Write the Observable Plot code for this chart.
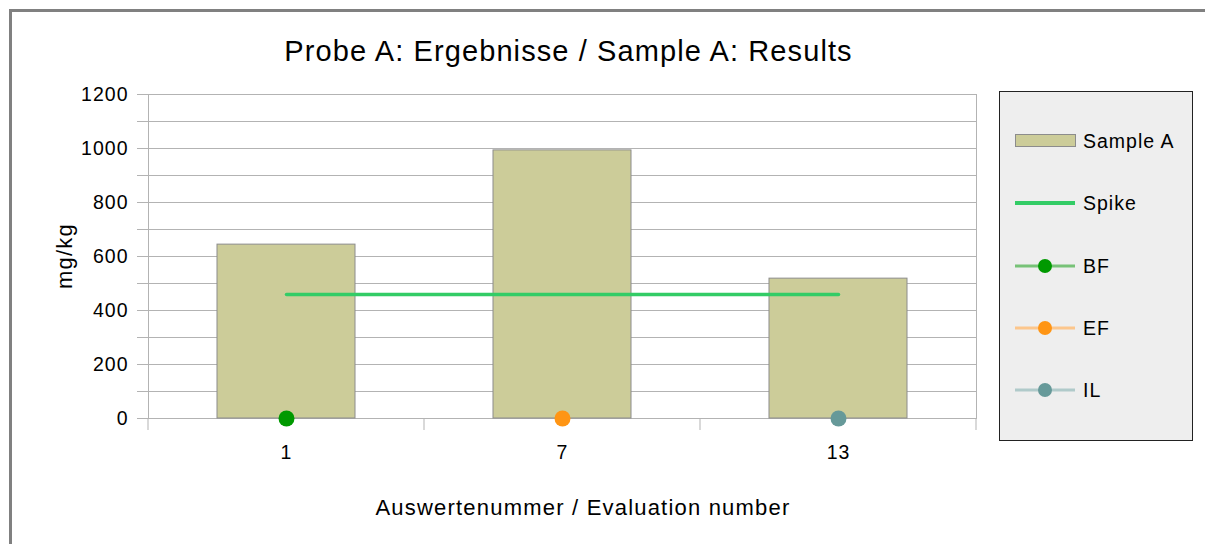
<!DOCTYPE html>
<html><head><meta charset="utf-8">
<script src="https://cdn.jsdelivr.net/npm/d3@7"></script>
<script src="https://cdn.jsdelivr.net/npm/@observablehq/plot@0.6"></script>
<style>
html,body{margin:0;padding:0;background:#fff;}
body{width:1205px;height:544px;overflow:hidden;position:relative;font-family:"Liberation Sans",Arial,sans-serif;}
#frame{position:absolute;left:9px;top:9px;width:1300px;height:700px;border:3px solid #808080;box-sizing:border-box;}
#title{position:absolute;left:0;top:34px;width:1137px;text-align:center;font-size:29px;letter-spacing:1.1px;line-height:34px;color:#000;white-space:nowrap;}
#xlabel{position:absolute;left:0;top:495px;width:1166px;text-align:center;font-size:22px;letter-spacing:1.2px;line-height:26px;color:#000;white-space:nowrap;}
#ylabel{position:absolute;left:65px;top:256px;transform:translate(-50%,-50%) rotate(-90deg);font-size:22px;letter-spacing:1.2px;line-height:26px;color:#000;white-space:nowrap;}
#chart{position:absolute;left:0;top:0;}
</style>
</head><body>
<div id="frame"></div>
<div id="chart"></div>
<div id="title"></div>
<div id="xlabel"></div>
<div id="ylabel"></div>
<script>
const categories = ["1", "7", "13"];
const sampleA = [644, 993, 518];
const spike = [459, 459, 459];
const markerNames = ["BF", "EF", "IL"];
const markerCategories = ["1", "7", "13"];
const markerValues = [0, 0, 0];
const markerColors = ["#009900", "#ff9514", "#669999"];
const legendLineColors = ["#77c277", "#fcc68c", "#b0caca"];
const yTicks = [0, 100, 200, 300, 400, 500, 600, 700, 800, 900, 1000, 1100, 1200];
const yLabelTicks = [0, 200, 400, 600, 800, 1000, 1200];
const title = "Probe A: Ergebnisse / Sample A: Results";
const xLabel = "Auswertenummer / Evaluation number";
const yLabel = "mg/kg";

document.getElementById("title").textContent = title;
document.getElementById("xlabel").textContent = xLabel;
document.getElementById("ylabel").textContent = yLabel;

const bars = categories.map((c, i) => ({cat: c, value: sampleA[i]}));
const spikeData = categories.map((c, i) => ({cat: c, value: spike[i]}));
const markers = markerNames.map((n, i) => ({name: n, cat: markerCategories[i], value: markerValues[i]}));

const plot = Plot.plot({
  width: 1205, height: 544,
  marginLeft: 148, marginRight: 229, marginTop: 94, marginBottom: 126,
  style: {fontFamily: '"Liberation Sans", Arial, sans-serif', fontSize: "19.5px", letterSpacing: "1px", background: "transparent", color: "#000"},
  x: {type: "band", domain: categories, paddingInner: 0.5, paddingOuter: 0.25},
  y: {domain: [0, 1200]},
  color: {domain: markerNames, range: markerColors},
  marks: [
    Plot.gridY(yTicks, {stroke: "#b3b3b3", strokeOpacity: 1, strokeWidth: 1}),
    Plot.frame({stroke: "#b3b3b3"}),
    Plot.axisY(yTicks, {tickSize: 11, tickPadding: 9, stroke: "#b3b3b3", fill: "#000",
      tickFormat: d => yLabelTicks.includes(d) ? String(d) : "", label: null}),
    Plot.axisX({tickSize: 0, tickPadding: 27, fill: "#000", label: null}),
    Plot.barY(bars, {x: "cat", y: "value", fill: "#cccc99", stroke: "#8c8c8c", strokeWidth: 1}),
    Plot.line(spikeData, {x: "cat", y: "value", stroke: "#33cc66", strokeWidth: 3.5}),
    Plot.dot(markers, {x: "cat", y: "value", r: 8, fill: "name", stroke: "none"})
  ]
});
document.getElementById("chart").appendChild(plot);

// Category separator ticks, derived from the scales
const xs = plot.scale("x"), ys = plot.scale("y");
const svg = d3.select(plot);
const y0 = ys.apply(0);
const [r0, r1] = xs.range;
const bounds = [r0, ...categories.slice(0, -1).map(c => xs.apply(c) + xs.bandwidth + (xs.step - xs.bandwidth) / 2), r1];
svg.append("g").selectAll("line").data(bounds).join("line")
  .attr("x1", d => d).attr("x2", d => d).attr("y1", y0).attr("y2", y0 + 12)
  .attr("stroke", "#b3b3b3");

// Legend
const lg = svg.append("g").attr("font-size", 19.5).attr("text-anchor", "start")
  .attr("font-family", '"Liberation Sans", Arial, sans-serif');
lg.append("rect").attr("x", 999.5).attr("y", 91.5).attr("width", 193).attr("height", 349)
  .attr("fill", "#eeeeee").attr("stroke", "#222");
const ly = [141, 203, 266, 328, 390];
lg.append("rect").attr("x", 1015.5).attr("y", 134.5).attr("width", 60).attr("height", 12)
  .attr("fill", "#cccc99").attr("stroke", "#8c8c8c");
lg.append("line").attr("x1", 1015).attr("x2", 1075).attr("y1", ly[1]).attr("y2", ly[1])
  .attr("stroke", "#33cc66").attr("stroke-width", 4);
markerNames.forEach((n, i) => {
  const yy = ly[i + 2];
  lg.append("line").attr("x1", 1015).attr("x2", 1075).attr("y1", yy).attr("y2", yy)
    .attr("stroke", legendLineColors[i]).attr("stroke-width", 3);
  lg.append("circle").attr("cx", 1045).attr("cy", yy).attr("r", 7).attr("fill", markerColors[i]);
});
const labels = ["Sample A", "Spike", ...markerNames];
labels.forEach((t, i) => {
  lg.append("text").attr("x", 1083).attr("y", ly[i]).attr("dy", "0.35em").text(t);
});
</script>
</body></html>
